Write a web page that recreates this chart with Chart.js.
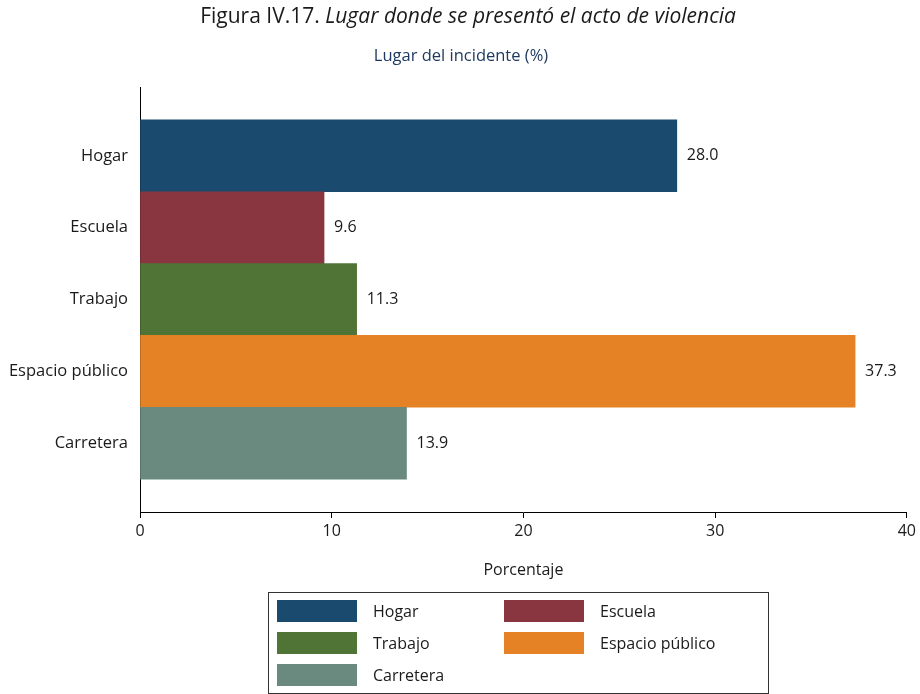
<!DOCTYPE html>
<html lang="es">
<head>
<meta charset="utf-8">
<title>Lugar del incidente</title>
<script src="https://cdn.jsdelivr.net/npm/chart.js@4/dist/chart.umd.min.js"></script>
<style>
  html, body { margin: 0; background: #fff; }
  #wrap { position: relative; width: 920px; height: 694px; font-family: 'Open Sans', sans-serif; color: #1a1a1a; }
  #chart { position: absolute; left: 0; top: 0; }
  #legend { position: absolute; left: 268px; top: 592px; width: 501px; height: 102px; border: 1px solid #333; box-sizing: border-box; }
  .item { position: absolute; display: flex; align-items: center; height: 22px; font-size: 16px; white-space: nowrap; }
  .sw { display: inline-block; width: 80px; height: 22px; margin-right: 16px; }
</style>
</head>
<body>
<div id="wrap">
  <canvas id="chart" width="920" height="694"></canvas>
  <div id="legend"></div>
</div>
<script>
const categories = ['Hogar', 'Escuela', 'Trabajo', 'Espacio público', 'Carretera'];
const values = [28.0, 9.6, 11.3, 37.3, 13.9];
const xTicks = [0, 10, 20, 30, 40];

const barColors = ['#1b4a6f', '#893641', '#507436', '#e58225', '#6a8a80'];
const FONT = "'Open Sans', sans-serif";
const INK = '#1a1a1a';

// title line: plain figure number followed by italic caption, plus subtitle
const headerPlugin = {
  id: 'header',
  afterDraw(chart) {
    const ctx = chart.ctx;
    const plain = 'Figura IV.17. ';
    const italic = 'Lugar donde se presentó el acto de violencia';
    ctx.save();
    ctx.fillStyle = INK;
    ctx.textBaseline = 'alphabetic';
    ctx.font = `21px ${FONT}`;
    const w1 = ctx.measureText(plain).width;
    ctx.font = `italic 21px ${FONT}`;
    const w2 = ctx.measureText(italic).width;
    const x = 468 - (w1 + w2) / 2;
    ctx.textAlign = 'left';
    ctx.font = `21px ${FONT}`;
    ctx.fillText(plain, x, 23);
    ctx.font = `italic 21px ${FONT}`;
    ctx.fillText(italic, x + w1, 23);

    ctx.font = `16.5px ${FONT}`;
    ctx.fillStyle = '#1f3a60';
    ctx.textAlign = 'center';
    ctx.fillText('Lugar del incidente (%)', 461, 61);
    ctx.restore();
  }
};

// value printed just past the end of each bar
const valueLabels = {
  id: 'valueLabels',
  afterDatasetsDraw(chart) {
    const ctx = chart.ctx;
    const meta = chart.getDatasetMeta(0);
    ctx.save();
    ctx.font = `16px ${FONT}`;
    ctx.fillStyle = INK;
    ctx.textAlign = 'left';
    ctx.textBaseline = 'middle';
    meta.data.forEach((bar, i) => {
      ctx.fillText(values[i].toFixed(1), bar.x + 10, bar.y);
    });
    ctx.restore();
  }
};

new Chart(document.getElementById('chart'), {
  type: 'bar',
  data: {
    datasets: [{
      data: values.map((v, i) => ({ x: v, y: i })),
      backgroundColor: barColors,
      borderWidth: 0,
      barPercentage: 1,
      categoryPercentage: 1
    }]
  },
  options: {
    indexAxis: 'y',
    responsive: false,
    animation: false,
    layout: { padding: { top: 87, right: 12, bottom: 102, left: 0 } },
    plugins: {
      legend: { display: false },
      tooltip: { enabled: false }
    },
    scales: {
      y: {
        type: 'linear',
        reverse: true,
        offset: false,
        min: -0.958,
        max: 4.958,
        afterBuildTicks: s => { s.ticks = categories.map((_, i) => ({ value: i })); },
        afterFit: s => { s.width = 140; },
        ticks: {
          callback: v => categories[v],
          font: { family: FONT, size: 16.5 },
          color: INK,
          padding: 12,
          autoSkip: false
        },
        grid: { display: false, drawTicks: false, offset: false },
        border: { display: true, color: '#000', width: 1 }
      },
      x: {
        type: 'linear',
        min: 0,
        max: 40,
        afterBuildTicks: s => { s.ticks = xTicks.map(v => ({ value: v })); },
        afterFit: s => { s.height = 80; },
        ticks: {
          font: { family: FONT, size: 16 },
          color: INK,
          padding: 4
        },
        grid: { drawOnChartArea: false, drawTicks: true, tickLength: 6, color: '#000' },
        border: { display: true, color: '#000', width: 1 },
        title: {
          display: true,
          text: 'Porcentaje',
          font: { family: FONT, size: 16 },
          color: INK,
          padding: { top: 0, bottom: 12 }
        }
      }
    }
  },
  plugins: [headerPlugin, valueLabels]
});

// boxed legend, two columns
const legend = document.getElementById('legend');
const colX = [8, 235];
const rowY = [7, 39, 71];
categories.forEach((name, i) => {
  const item = document.createElement('div');
  item.className = 'item';
  item.style.left = colX[i % 2] + 'px';
  item.style.top = rowY[Math.floor(i / 2)] + 'px';
  const sw = document.createElement('span');
  sw.className = 'sw';
  sw.style.background = barColors[i];
  item.appendChild(sw);
  item.appendChild(document.createTextNode(name));
  legend.appendChild(item);
});
</script>
</body>
</html>
